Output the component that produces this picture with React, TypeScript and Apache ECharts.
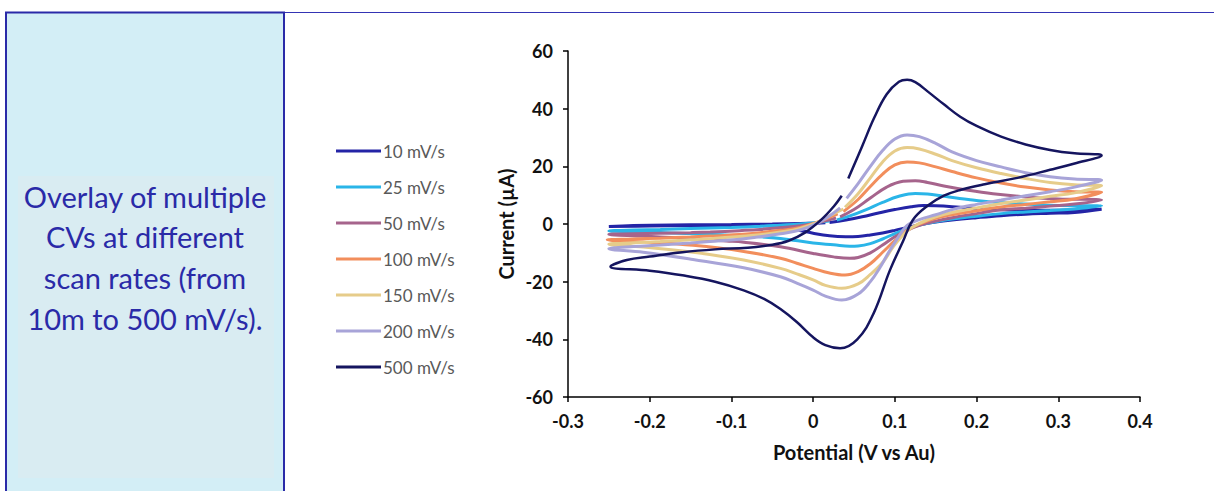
import React, { useEffect, useRef } from "react";
import * as echarts from "echarts";

const seriesNames = ["10 mV/s", "25 mV/s", "50 mV/s", "100 mV/s", "150 mV/s", "200 mV/s", "500 mV/s"];
const seriesColors = ["#2424a6", "#2ab5e8", "#a6648c", "#f28e5c", "#e6cc8a", "#a8a4d8", "#15155f"];

const xTicks = { min: -0.3, max: 0.4, interval: 0.1 };
const yTicks = { min: -60, max: 60, interval: 20 };

const cv10: number[][] = [
  [0.02, 0.5], [0.04, 1.4], [0.06, 2.5], [0.08, 3.8], [0.1, 5], [0.12, 6], [0.135, 6.4], [0.15, 6.3], [0.17, 6], [0.2, 5.4], [0.23, 4.9], [0.26, 4.8], [0.29, 4.8], [0.32, 4.9], [0.353, 5.1],
  [0.32, 4.0], [0.29, 3.7], [0.26, 3.4], [0.23, 2.9], [0.2, 2.2], [0.17, 1.4], [0.15, 0.7], [0.13, -0.3], [0.115, -1.2], [0.1, -2.2], [0.085, -3.1], [0.07, -3.8], [0.055, -4.3], [0.04, -4.4], [0.02, -4.1], [0, -3.2], [-0.02, -2.0], [-0.04, -0.9], [-0.065, -0.6], [-0.1, -0.5], [-0.15, -0.6], [-0.2, -0.7], [-0.25, -0.9],
  [-0.22, -0.5], [-0.15, -0.3], [-0.1, -0.2], [-0.05, 0], [-0.016, 0.2], [0.005, 0.3], [0.015, 0.4],
];
const cv25: number[][] = [
  [0.029, 1.4], [0.045, 2.8], [0.065, 5], [0.085, 7.5], [0.105, 9.6], [0.125, 10.6], [0.14, 10.4], [0.16, 9.6], [0.19, 8.5], [0.22, 7.6], [0.26, 6.9], [0.3, 6.4], [0.353, 6.3],
  [0.32, 5.2], [0.29, 4.7], [0.26, 4.2], [0.23, 3.6], [0.2, 2.7], [0.17, 1.7], [0.15, 0.8], [0.13, -0.4], [0.115, -1.7], [0.1, -3.3], [0.085, -5.2], [0.07, -6.8], [0.055, -7.6], [0.045, -7.7], [0.025, -7.2], [0, -6.6], [-0.04, -5.0], [-0.085, -4.1], [-0.147, -3.4], [-0.2, -2.8], [-0.25, -2.4],
  [-0.22, -2.1], [-0.187, -1.9], [-0.15, -1.6], [-0.1, -1.2], [-0.065, -0.8], [-0.04, -0.4], [-0.016, 0], [0.005, 0.5], [0.02, 1.0],
];
const cv50: number[][] = [
  [0.033, 2.5], [0.05, 5], [0.07, 9], [0.09, 12.8], [0.11, 14.8], [0.125, 15], [0.14, 14.4], [0.16, 13.2], [0.19, 11.7], [0.22, 10.5], [0.26, 9.4], [0.3, 8.7], [0.353, 8.3],
  [0.32, 6.9], [0.29, 6.2], [0.26, 5.5], [0.23, 4.9], [0.2, 3.6], [0.17, 2.2], [0.15, 1], [0.13, -0.5], [0.115, -2.2], [0.1, -4.4], [0.085, -7.3], [0.07, -10], [0.055, -11.6], [0.045, -11.9], [0.025, -11.4], [0, -10.2], [-0.04, -7.9], [-0.085, -6.3], [-0.106, -5.9], [-0.167, -4.8], [-0.208, -4.2], [-0.25, -3.6],
  [-0.22, -3.4], [-0.187, -3.2], [-0.15, -3.0], [-0.126, -2.8], [-0.09, -2.3], [-0.065, -1.9], [-0.04, -1.3], [-0.016, -0.6], [0.005, 0.4], [0.02, 1.5], [0.028, 2.1],
];
const cv100: number[][] = [
  [0.037, 4.3], [0.055, 8.5], [0.07, 13], [0.085, 17.3], [0.1, 20.5], [0.115, 21.5], [0.13, 21.2], [0.15, 19.8], [0.17, 18.2], [0.2, 16], [0.23, 14.2], [0.26, 12.8], [0.29, 11.8], [0.32, 11.2], [0.353, 11.0],
  [0.32, 8.7], [0.29, 7.7], [0.26, 6.8], [0.23, 5.9], [0.2, 4.6], [0.17, 3.2], [0.15, 2], [0.13, 0], [0.115, -2.2], [0.1, -5.8], [0.085, -9.8], [0.07, -13.8], [0.055, -16.5], [0.039, -17.7], [0.02, -17.0], [0, -15.4], [-0.02, -13.6], [-0.04, -11.9], [-0.085, -9.5], [-0.147, -7.4], [-0.208, -6.2], [-0.252, -5.5],
  [-0.22, -5.2], [-0.187, -4.9], [-0.15, -4.5], [-0.126, -4.2], [-0.09, -3.6], [-0.065, -3.0], [-0.04, -2.2], [-0.016, -1.2], [0.005, 0.6], [0.02, 2.3], [0.03, 3.5],
];
const cv150: number[][] = [
  [0.039, 5.8], [0.055, 10.5], [0.07, 16], [0.085, 21.5], [0.1, 25.3], [0.115, 26.5], [0.13, 26], [0.15, 24.2], [0.17, 22], [0.2, 19.5], [0.23, 17.5], [0.26, 15.8], [0.29, 14.4], [0.32, 13.6], [0.353, 13.3],
  [0.32, 10.8], [0.29, 9.6], [0.26, 8.3], [0.23, 7.1], [0.2, 5.6], [0.17, 4], [0.15, 2.5], [0.13, 0.2], [0.115, -2.5], [0.098, -7.9], [0.086, -13], [0.07, -17.5], [0.055, -20.8], [0.035, -22.3], [0.015, -21.3], [0, -19.4], [-0.02, -17.3], [-0.04, -15.4], [-0.085, -12.5], [-0.147, -9.8], [-0.208, -8.0], [-0.25, -7.0],
  [-0.22, -6.5], [-0.187, -6.1], [-0.15, -5.5], [-0.126, -5.1], [-0.09, -4.3], [-0.065, -3.7], [-0.04, -2.8], [-0.016, -1.5], [0.005, 0.6], [0.02, 2.8], [0.037, 5.2],
];
const cv200: number[][] = [
  [0.041, 8.9], [0.055, 14], [0.07, 20], [0.085, 25.5], [0.1, 29.5], [0.115, 30.9], [0.13, 30.3], [0.15, 28], [0.17, 25], [0.2, 22], [0.23, 19.8], [0.26, 17.8], [0.29, 16.4], [0.32, 15.6], [0.353, 15.2],
  [0.32, 12.8], [0.29, 11.2], [0.26, 9.8], [0.23, 8.3], [0.2, 6.8], [0.17, 5], [0.15, 3.2], [0.13, 1.5], [0.115, -0.5], [0.102, -5.5], [0.09, -11], [0.082, -15], [0.07, -20], [0.055, -24.3], [0.035, -26.4], [0.015, -25], [0, -22.9], [-0.02, -20.5], [-0.04, -18.3], [-0.085, -15.2], [-0.147, -12.3], [-0.208, -9.8], [-0.25, -8.6],
  [-0.22, -7.8], [-0.187, -7.3], [-0.15, -6.6], [-0.126, -6.1], [-0.09, -5.3], [-0.065, -4.4], [-0.04, -3.4], [-0.016, -2.1], [0.005, 0.2], [0.02, 2.8], [0.033, 5.6],
];
const cv500: number[][] = [
  [0.043, 15.8], [0.06, 27], [0.075, 37], [0.09, 45], [0.105, 49.3], [0.115, 50], [0.125, 49.2], [0.14, 46], [0.16, 41.5], [0.18, 37.2], [0.2, 34], [0.23, 30.3], [0.26, 27.6], [0.29, 25.7], [0.32, 24.5], [0.353, 23.8],
  [0.32, 21], [0.29, 18.8], [0.25, 16], [0.21, 13.8], [0.18, 11.8], [0.16, 9.8], [0.14, 6.3], [0.122, 1.4], [0.11, -6], [0.094, -16], [0.074, -31], [0.054, -40], [0.033, -43.1], [0.015, -42], [0, -39.3], [-0.02, -34], [-0.04, -29.5], [-0.06, -26], [-0.085, -23], [-0.12, -20], [-0.16, -17.8], [-0.2, -16.2], [-0.248, -14.8],
  [-0.228, -12.5], [-0.2, -11.3], [-0.16, -9.8], [-0.12, -8.8], [-0.08, -8.2], [-0.05, -7.2], [-0.03, -5.8], [-0.01, -3], [0.01, 1.5], [0.025, 6], [0.035, 9.8],
];
const cvData = [cv10, cv25, cv50, cv100, cv150, cv200, cv500];

const panelLines = ["Overlay of multiple", "CVs at different", "scan rates (from", "10m to 500 mV/s)."];

export default function App() {
  const ref = useRef<HTMLDivElement>(null);
  useEffect(() => {
    if (!ref.current) return;
    const chart = echarts.init(ref.current, undefined, { renderer: "svg" });
    const font = "Lato, 'Open Sans', sans-serif";
    const textEls: any[] = panelLines.map((t, i) => ({
      type: "text",
      x: 145,
      y: 196 + i * 40.7,
      z: 10,
      style: {
        text: t,
        font: `29px ${font}`,
        fill: "#2a2aa8",
        align: "center",
        verticalAlign: "middle",
        textAlign: "center",
        textVerticalAlign: "middle",
      },
    }));
    chart.setOption({
      animation: false,
      backgroundColor: "#ffffff",
      grid: { left: 568, right: 74, top: 51, bottom: 94, containLabel: false },
      legend: {
        orient: "vertical",
        left: 331,
        top: 137,
        itemWidth: 45,
        itemHeight: 3,
        itemGap: 18,
        icon: "rect",
        textStyle: { fontFamily: font, fontSize: 17, color: "#595959", lineHeight: 18, padding: [0, 0, 0, -3] },
        data: seriesNames,
      },
      xAxis: {
        type: "value",
        min: xTicks.min,
        max: xTicks.max,
        interval: xTicks.interval,
        name: "Potential (V vs Au)",
        nameLocation: "middle",
        nameGap: 45,
        nameTextStyle: { fontFamily: font, fontSize: 20, fontWeight: "bold", color: "#111" },
        axisLine: { onZero: false, lineStyle: { color: "#000", width: 1.5 } },
        axisTick: { show: true, length: 5, lineStyle: { color: "#000", width: 1.5 } },
        axisLabel: {
          fontFamily: font,
          fontSize: 18,
          fontWeight: "bold",
          color: "#111",
          margin: 15,
          formatter: (v: number) => String(Math.round(v * 10) / 10),
        },
        splitLine: { show: false },
      },
      yAxis: {
        type: "value",
        min: yTicks.min,
        max: yTicks.max,
        interval: yTicks.interval,
        name: "Current (µA)",
        nameLocation: "middle",
        nameGap: 52,
        nameTextStyle: { fontFamily: font, fontSize: 20, fontWeight: "bold", color: "#111" },
        axisLine: { show: true, onZero: false, lineStyle: { color: "#000", width: 1.5 } },
        axisTick: { show: true, length: 5, lineStyle: { color: "#000", width: 1.5 } },
        axisLabel: {
          fontFamily: font,
          fontSize: 18,
          fontWeight: "bold",
          color: "#111",
          margin: 15,
          formatter: (v: number) => String(Math.round(v)),
        },
        splitLine: { show: false },
      },
      series: seriesNames.map((n, i) => ({
        name: n,
        type: "line",
        data: cvData[i],
        smooth: 0.4,
        showSymbol: false,
        symbol: "none",
        color: seriesColors[i],
        lineStyle: { color: seriesColors[i], width: i === 6 ? 2.5 : 3 },
        z: 2 + i,
      })),
      graphic: [
        {
          type: "line",
          shape: { x1: 284, y1: 12.5, x2: 1214, y2: 12.5 },
          style: { stroke: "#3434b4", lineWidth: 1 },
        },
        {
          type: "rect",
          shape: { x: 6, y: 12.5, width: 278, height: 490 },
          style: { fill: "#d3eef6", stroke: "#2a2aa8", lineWidth: 2 },
        },
        {
          type: "rect",
          shape: { x: 18, y: 176, width: 256, height: 302 },
          style: { fill: "#d9ecf2" },
        },
        ...textEls,
      ],
    });
    return () => chart.dispose();
  }, []);
  return (
    <div
      ref={ref}
      style={{ position: "fixed", left: 0, top: 0, width: 1214, height: 491, background: "#fff" }}
    />
  );
}
